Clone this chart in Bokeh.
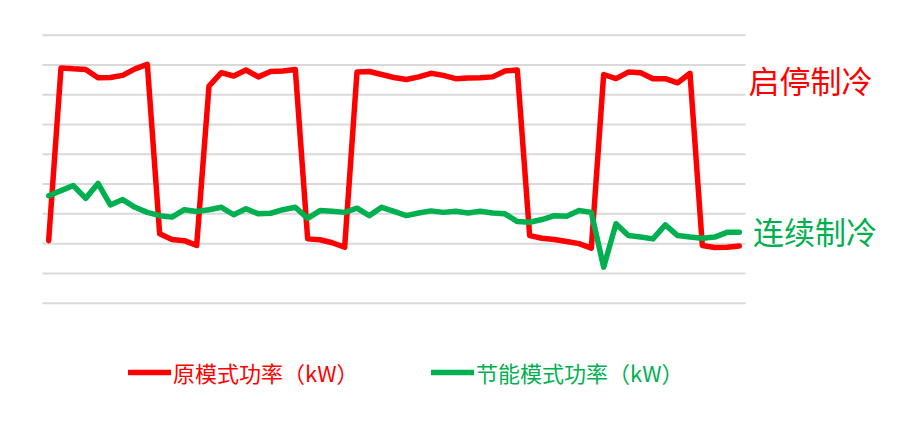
from bokeh.plotting import figure
from bokeh.models import Range1d, Legend, LegendItem, Label
from bokeh.embed import file_html
from bokeh.resources import INLINE

idx = list(range(57))
orig_power = [2.10, 7.90, 7.87, 7.85, 7.57, 7.58, 7.65, 7.87, 8.02, 2.33,
              2.14, 2.10, 1.94, 7.29, 7.74, 7.63, 7.83, 7.60, 7.78, 7.80,
              7.85, 2.16, 2.13, 2.03, 1.88, 7.76, 7.78, 7.68, 7.58, 7.51,
              7.60, 7.72, 7.65, 7.54, 7.56, 7.57, 7.60, 7.80, 7.83, 2.27,
              2.18, 2.14, 2.07, 2.00, 1.85, 7.68, 7.54, 7.76, 7.74, 7.54,
              7.54, 7.40, 7.72, 1.94, 1.87, 1.88, 1.92]
eco_power = [3.61, 3.78, 3.95, 3.52, 4.02, 3.30, 3.48, 3.22, 3.05, 2.94,
             2.89, 3.14, 3.08, 3.14, 3.22, 2.97, 3.17, 3.00, 3.02, 3.14,
             3.22, 2.85, 3.11, 3.09, 3.05, 3.19, 2.94, 3.22, 3.08, 2.94,
             3.03, 3.10, 3.05, 3.09, 3.03, 3.09, 3.03, 3.00, 2.74, 2.72,
             2.81, 2.94, 2.92, 3.11, 3.05, 1.21, 2.67, 2.27, 2.22, 2.16,
             2.63, 2.27, 2.22, 2.18, 2.22, 2.38, 2.38]
grid_ticks = list(range(10))
series_names = ["原模式功率（kW）", "节能模式功率（kW）"]
annotations = ["启停制冷", "连续制冷"]

RED = "#ff0000"
GREEN = "#00b050"
FONT = "Noto Sans CJK SC"

W, H = 885, 424
XS = 12.333   # px per category
YS = 29.78    # px per unit
x0 = -0.5 - 42 / XS
y1 = 302.7 / YS
p = figure(frame_width=W, frame_height=H,
           x_range=Range1d(x0, x0 + W / XS), y_range=Range1d(y1 - H / YS, y1),
           output_backend="svg", toolbar_location=None,
           min_border=0, outline_line_color=None,
           background_fill_color="white", border_fill_color="white")

p.xaxis.visible = False
p.yaxis.visible = False
p.xgrid.visible = False
p.ygrid.visible = False

# horizontal gridlines spanning the category range
p.segment(x0=[idx[0] - 0.5] * len(grid_ticks), x1=[idx[-1] + 0.5] * len(grid_ticks),
          y0=grid_ticks, y1=grid_ticks, line_color="#d9d9d9", line_width=2)

r1 = p.line(idx, orig_power, line_color=RED, line_width=5.5,
            line_join="round", line_cap="round")
r2 = p.line(idx, eco_power, line_color=GREEN, line_width=5.5,
            line_join="round", line_cap="round")

p.add_layout(Label(x=56.74, y=7.52, text=annotations[0], text_color=RED,
                   text_font=FONT, text_font_size="31px",
                   text_baseline="middle", text_align="left"))
p.add_layout(Label(x=57.1, y=2.44, text=annotations[1], text_color=GREEN,
                   text_font=FONT, text_font_size="31px",
                   text_baseline="middle", text_align="left"))

for r, name, col, xoff in [(r1, series_names[0], RED, 128),
                            (r2, series_names[1], GREEN, 431)]:
    leg = Legend(items=[LegendItem(label=name, renderers=[r])],
                 location=(xoff, 36), orientation="horizontal",
                 glyph_width=43, glyph_height=24, label_standoff=2,
                 padding=0, margin=0, spacing=0,
                 label_text_color=col, label_text_font=FONT,
                 label_text_font_size="22px",
                 border_line_color=None, background_fill_alpha=0)
    p.add_layout(leg, "center")

open("out.html", "w").write(file_html(p, INLINE))
